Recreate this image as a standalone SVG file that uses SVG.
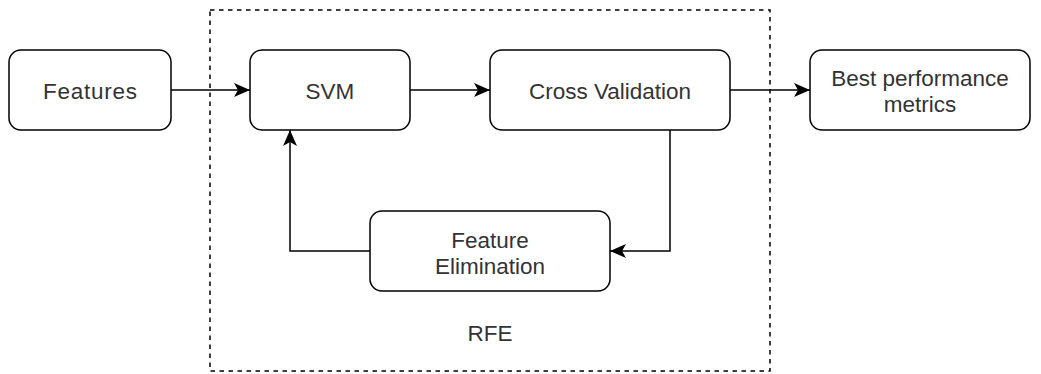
<svg xmlns="http://www.w3.org/2000/svg" width="1041" height="374" viewBox="0 0 1041 374">
  <style>
    .box { fill: #ffffff; stroke: #000000; stroke-width: 1.5; }
    .lbl { font-family: "Liberation Sans", Arial, Helvetica, sans-serif; font-size: 22.5px; fill: #333333; text-anchor: middle; }
    .edge { fill: none; stroke: #000000; stroke-width: 1.5; }
    .group { fill: none; stroke: #000000; stroke-width: 1.5; stroke-dasharray: 4.5 4.5; }
  </style>
  <defs>
    <marker id="arrow" viewBox="0 0 16 14" refX="16" refY="7" markerWidth="16" markerHeight="14" markerUnits="userSpaceOnUse" orient="auto">
      <path d="M0,0 L16,7 L0,14 L4,7 Z" fill="#000000"/>
    </marker>
  </defs>
  <rect width="1041" height="374" fill="#ffffff"/>

  <g id="rfe-group">
    <rect class="group" x="210" y="10" width="560" height="361"/>
    <text class="lbl" x="490" y="341">RFE</text>
  </g>

  <g id="connectors">
    <path class="edge" d="M171,90 H250" marker-end="url(#arrow)"/>
    <path class="edge" d="M410,90 H490" marker-end="url(#arrow)"/>
    <path class="edge" d="M730,90 H810" marker-end="url(#arrow)"/>
    <path class="edge" d="M670,130 V251 H610" marker-end="url(#arrow)"/>
    <path class="edge" d="M370,251 H290 V130" marker-end="url(#arrow)"/>
  </g>

  <g id="features">
    <rect class="box" x="9" y="50" width="162" height="80" rx="12" ry="12"/>
    <text class="lbl" x="90" y="99" textLength="94" lengthAdjust="spacing">Features</text>
  </g>

  <g id="svm">
    <rect class="box" x="250" y="50" width="160" height="80" rx="12" ry="12"/>
    <text class="lbl" x="330" y="99">SVM</text>
  </g>

  <g id="cross-validation">
    <rect class="box" x="490" y="50" width="240" height="80" rx="12" ry="12"/>
    <text class="lbl" x="610" y="99">Cross Validation</text>
  </g>

  <g id="best-performance">
    <rect class="box" x="810" y="50" width="220" height="80" rx="12" ry="12"/>
    <text class="lbl" x="920" y="86">Best performance</text>
    <text class="lbl" x="920" y="112">metrics</text>
  </g>

  <g id="feature-elimination">
    <rect class="box" x="370" y="211" width="240" height="80" rx="12" ry="12"/>
    <text class="lbl" x="490" y="248">Feature</text>
    <text class="lbl" x="490" y="274">Elimination</text>
  </g>
</svg>
